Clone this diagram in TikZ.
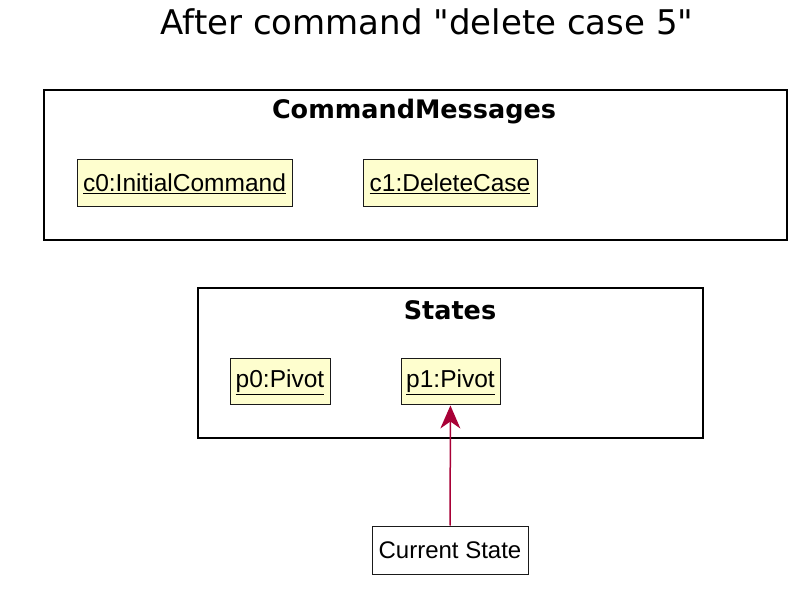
\documentclass[tikz,border=0pt]{standalone}
\usepackage{fontspec}
\setmainfont{Liberation Sans}
\newfontfamily\titlefont{DejaVu Sans}
\usetikzlibrary{shapes, positioning, arrows.meta}
\usepackage{xcolor}
\definecolor{objfill}{HTML}{FEFECE}
\definecolor{objline}{HTML}{1A1A1A}
\definecolor{arrowred}{HTML}{A80036}

\begin{document}
\begin{tikzpicture}[x=1pt, y=-1pt]

  \tikzstyle{frame} = [rectangle, draw, line width=2.5pt, inner sep=0pt];
  \tikzstyle{obj} = [rectangle, draw=objline, fill=objfill, line width=1pt, inner sep=0pt, minimum height=47pt, font=\fontsize{24.5}{28}\selectfont];
  \tikzstyle{plain} = [rectangle, draw=objline, fill=white, line width=1pt, inner sep=0pt, minimum height=48pt, minimum width=156pt, font=\fontsize{24}{28}\selectfont];
  \tikzstyle{frametitle} = [font=\titlefont\bfseries\fontsize{25.5}{30}\selectfont];

  \useasboundingbox (0,0) rectangle (806,593);

  \node[font=\titlefont\fontsize{34}{40}\selectfont] (title) at (427,22) {After command "delete case 5"};

  % command history
  \node[frame, minimum width=743pt, minimum height=150pt] (cmds) at (415.5,165) {};
  \node[frametitle] (cmdstitle) at (414,112) {CommandMessages};
  \node[obj, minimum width=215pt] (c0) at (184.5,183.5) {\underline{c0:InitialCommand}};
  \node[obj, minimum width=174pt] (c1) at (450,183.5) {\underline{c1:DeleteCase}};

  % states
  \node[frame, minimum width=505pt, minimum height=150pt] (states) at (450.5,363) {};
  \node[frametitle] (statestitle) at (450,310) {States};
  \node[obj, minimum width=100pt, minimum height=46pt] (p0) at (280,382) {\underline{p0:Pivot}};
  \node[obj, minimum width=99pt, minimum height=46pt] (p1) at (450.5,382) {\underline{p1:Pivot}};

  \node[plain] (current) at (450,550) {Current State};
  \draw[arrowred, line width=1.5pt, -{Stealth[length=23pt, width=20pt, inset=7pt]}] (current) -- (p1);
\end{tikzpicture}
\end{document}
